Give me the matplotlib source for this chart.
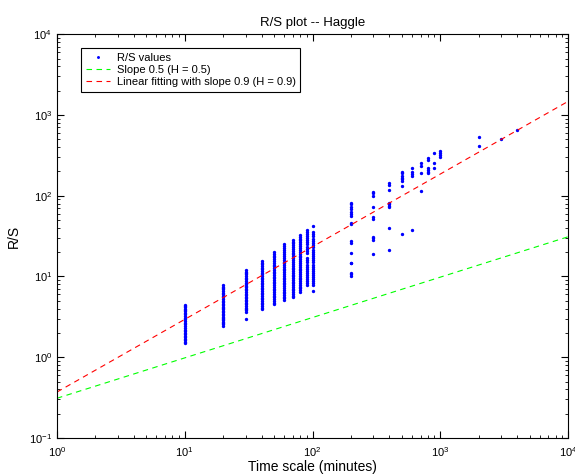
import numpy as np
import matplotlib
matplotlib.use("Agg")
import matplotlib.pyplot as plt

plt.rcParams['font.family'] = ['Liberation Sans', 'DejaVu Sans']
plt.rcParams['mathtext.default'] = 'regular'

# R/S values, one list per time scale (minutes)
rs_10 = [1.50, 1.55, 1.62, 1.70, 1.78, 1.85, 1.93, 2.00, 2.10, 2.20, 2.30, 2.42, 2.55,
         2.68, 2.80, 2.95, 3.10, 3.25, 3.40, 3.55, 3.70, 3.85, 4.00, 4.15, 4.30, 4.43]
rs_20 = [2.45, 2.55, 2.65, 2.75, 2.85, 2.95, 3.05, 3.18, 3.30, 3.45, 3.60, 3.75, 3.90, 4.05,
         4.20, 4.40, 4.60, 4.80, 5.00, 5.25, 5.50, 5.75, 6.00, 6.30, 6.60, 6.90, 7.20, 7.50, 7.80]
rs_30 = [2.97, 3.66, 3.80, 3.95, 4.10, 4.30, 4.50, 4.70, 4.90, 5.10, 5.35, 5.60, 5.85, 6.10,
         6.40, 6.70, 7.00, 7.35, 7.70, 8.05, 8.40, 8.80, 9.20, 9.65, 10.1, 10.6, 11.1, 11.5, 12.0]
rs_40 = [3.92, 4.10, 4.30, 4.50, 4.70, 4.95, 5.20, 5.45, 5.70, 6.00, 6.30, 6.60, 6.90, 7.25,
         7.60, 8.00, 8.40, 8.80, 9.20, 9.65, 10.1, 10.6, 11.1, 11.7, 12.3, 12.9, 13.5, 14.2,
         14.8, 15.5]
rs_50 = [4.55, 4.75, 5.00, 5.25, 5.50, 5.80, 6.10, 6.40, 6.70, 7.05, 7.40, 7.80, 8.20, 8.60,
         9.00, 9.45, 9.90, 10.4, 10.9, 11.5, 12.1, 12.7, 13.3, 14.0, 14.7, 15.5, 16.3, 17.2,
         18.1, 19.1, 20.2]
rs_60 = [5.10, 5.35, 5.60, 5.90, 6.20, 6.50, 6.85, 7.20, 7.55, 7.95, 8.35, 8.80, 9.25, 9.70,
         10.2, 10.7, 11.3, 11.9, 12.5, 13.1, 13.8, 14.5, 15.3, 16.1, 17.0, 17.9, 18.9, 20.0,
         21.2, 22.4, 23.6, 24.9]
rs_70 = [5.50, 5.75, 6.05, 6.35, 6.70, 7.05, 7.40, 7.80, 8.20, 8.60, 9.05, 9.50, 10.0, 10.5,
         11.1, 11.7, 12.3, 12.9, 13.6, 14.3, 15.1, 15.9, 16.8, 17.7, 18.7, 19.7, 20.8, 22.0,
         23.3, 24.6, 26.0, 27.0, 28.2]
rs_80 = [6.47, 6.80, 7.15, 7.50, 7.90, 8.30, 8.75, 9.20, 9.70, 10.2, 10.7, 11.3, 11.9, 12.5,
         13.2, 13.9, 14.7, 15.5, 16.3, 17.2, 18.1, 19.1, 20.1, 21.2, 22.4, 23.7, 25.0, 26.4,
         27.9, 29.4, 31.0, 32.5]
rs_90 = [7.8, 8.2, 8.7, 9.2, 9.8, 10.4, 11.0, 11.7, 12.4, 13.2, 14.0, 14.9, 15.8, 16.8,
         19.5, 20.7, 22.0, 23.4, 24.9, 26.5, 28.2, 30.0, 32.0, 34.0, 35.8, 37.5]
rs_100 = [6.65, 7.8, 8.2, 8.7, 9.2, 9.8, 10.4, 11.0, 11.7, 12.4, 13.2, 14.0, 14.9, 15.8,
          16.8, 17.9, 19.0, 20.2, 21.5, 22.9, 24.4, 26.0, 27.7, 29.5, 31.5, 33.6, 35.7, 42.0]
rs_200 = [81.7, 78, 73, 67.6, 63.2, 58.6, 56, 45.4, 44.1, 27.7, 25.7, 19.6, 14.8, 14.5,
          11.1, 10.6, 10.2]
rs_300 = [111.7, 106.7, 100, 73, 54.8, 50.9, 31, 29.6, 28.2, 18.8]
rs_400 = [144.5, 136.5, 117.2, 81.7, 78.7, 74.3, 71.6, 39.4, 21.2]
rs_500 = [197.6, 188.8, 175, 166.7, 159.3, 151.7, 132.7, 33.2]
rs_600 = [217.8, 196, 186, 175, 37.5]
rs_700 = [251, 232, 192, 115]
rs_800 = [290, 276, 218, 207.5, 198, 189]
rs_900 = [340, 255, 218]
rs_1000 = [360, 340, 318, 298]
rs_2000 = [536, 411]
rs_3000 = [498]
rs_4000 = [643]

scales = [10, 20, 30, 40, 50, 60, 70, 80, 90, 100, 200, 300, 400, 500, 600, 700, 800,
          900, 1000, 2000, 3000, 4000]
rs_lists = [rs_10, rs_20, rs_30, rs_40, rs_50, rs_60, rs_70, rs_80, rs_90, rs_100, rs_200,
            rs_300, rs_400, rs_500, rs_600, rs_700, rs_800, rs_900, rs_1000, rs_2000,
            rs_3000, rs_4000]

# reference lines: y = c * x^slope
slope_ref, c_ref = 0.5, 0.31
slope_fit, c_fit = 0.9, 0.37
line_x = [1, 10000]

xs = []
ys = []
for s, vals in zip(scales, rs_lists):
    xs += [s] * len(vals)
    ys += vals

fig = plt.figure(figsize=(5.75, 4.75), dpi=100)
ax = fig.add_axes([0.099, 0.078, 0.889, 0.850])

ax.loglog(xs, ys, '.', color=(0, 0, 1), markersize=2.8, label='R/S values')
lx = np.array(line_x, dtype=float)
ax.loglog(lx, c_ref * lx ** slope_ref, '--', color=(0, 1, 0), linewidth=0.8,
          dashes=(5, 4), label='Slope 0.5 (H = 0.5)')
ax.loglog(lx, c_fit * lx ** slope_fit, '--', color=(1, 0, 0), linewidth=0.8,
          dashes=(5, 4), label='Linear fitting with slope 0.9 (H = 0.9)')

ax.set_xlim(1, 1e4)
ax.set_ylim(0.1, 1e4)
ax.tick_params(which='both', direction='in', top=True, right=True, labelsize=8)
ax.tick_params(which='major', length=5)
ax.tick_params(which='minor', length=2.5)
ax.tick_params(axis='x', pad=5)
for sp in ax.spines.values():
    sp.set_linewidth(0.8)

ax.set_xlabel('Time scale (minutes)', fontsize=10, labelpad=1)
ax.set_ylabel('R/S', fontsize=10, labelpad=6)
ax.set_title('R/S plot -- Haggle', fontsize=9.5, pad=6)

leg = ax.legend(loc='upper left', bbox_to_anchor=(0.048, 0.965), fontsize=8,
                fancybox=False, edgecolor='black', framealpha=1, handlelength=2.2,
                borderpad=0.4, labelspacing=0.2, handletextpad=0.6,
                borderaxespad=0, markerscale=0.8)
leg.get_frame().set_linewidth(0.8)

fig.savefig('out.png', dpi=100)
